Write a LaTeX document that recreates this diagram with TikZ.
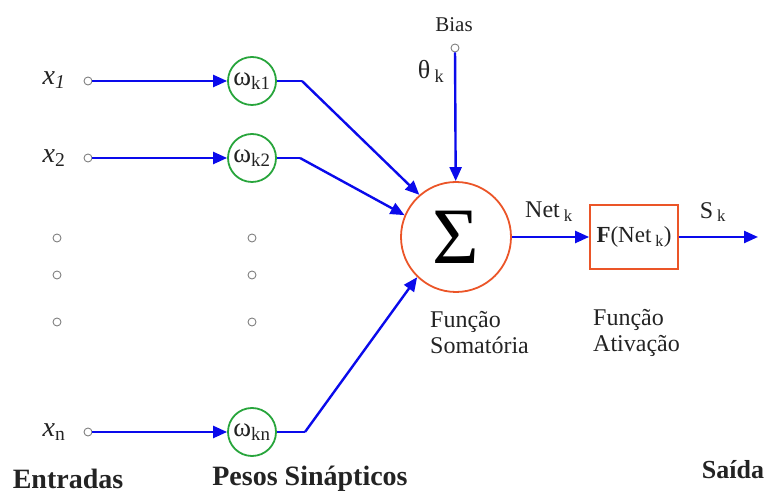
\documentclass[tikz,border=0pt]{standalone}
\usepackage{fontspec}
\setmainfont{Liberation Serif}
\usetikzlibrary{arrows.meta}

\definecolor{linkblue}{RGB}{10,10,235}
\definecolor{wgreen}{RGB}{40,165,60}
\definecolor{sumred}{RGB}{235,85,40}
\definecolor{txt}{RGB}{35,35,35}

\tikzset{
  link/.style={linkblue, line width=2.4pt},
  tip/.style={link, -{Triangle[length=14pt,width=12pt]}},
  port/.style={circle, draw=gray, line width=0.9pt, inner sep=0pt, minimum size=8pt},
  weight/.style={circle, draw=wgreen, line width=1.8pt, minimum size=48pt, inner sep=0pt,
    font=\fontsize{27}{27}\selectfont, text=txt},
  lbl/.style={font=\fontsize{24}{26}\selectfont, text=txt, inner sep=0pt},
  var/.style={font=\fontsize{28}{28}\selectfont, text=txt, inner sep=0pt},
  head/.style={font=\fontsize{28}{30}\selectfont\bfseries, text=txt, inner sep=0pt}
}

\begin{document}
\begin{tikzpicture}[x=1pt, y=1pt]
\useasboundingbox (0,0) rectangle (773,497);
% inputs
\node[var] (x1) at (54,417) {\textit{x}\textsubscript{\textit{1}}};
\node[var] (x2) at (54,339) {\textit{x}\textsubscript{2}};
\node[var] (xn) at (54,65) {\textit{x}\textsubscript{n}};
\node[port] (in1) at (88,416) {};
\node[port] (in2) at (88,339) {};
\node[port] (inn) at (88,65) {};
% weights
\node[weight] (w1) at (252,416) {ω\textsubscript{k1}};
\node[weight] (w2) at (252,339) {ω\textsubscript{k2}};
\node[weight] (wn) at (252,65) {ω\textsubscript{kn}};
\foreach \y/\n in {259/a, 222/b, 175/c} {
 \node[port] (din\n) at (57,\y) {};
 \node[port] (dw\n) at (252,\y) {};
}
\draw[tip] (in1) -- (w1);
\draw[tip] (in2) -- (w2);
\draw[tip] (inn) -- (wn);
% summing junction
\node[circle, draw=sumred, line width=1.8pt, minimum size=110pt, inner sep=0pt,
  font=\fontsize{80}{80}\selectfont, text=black] (sum) at (456,260) {Σ};
\coordinate (c1) at (302,416);
\coordinate (c2) at (300,339);
\coordinate (cn) at (305,65);
\draw[link] (w1) -- (c1);
\draw[tip] (c1) -- (sum.131);
\draw[link] (w2) -- (c2);
\draw[tip] (c2) -- (sum.157);
\draw[link] (wn) -- (cn);
\draw[tip] (cn) -- (sum.226);
% bias
\node[lbl, font=\fontsize{21}{22}\selectfont] (bias) at (454,472) {Bias};
\node[port] (bin) at (455,449) {};
\node[lbl, font=\fontsize{26}{26}\selectfont] (theta) at (431,426) {θ\,\textsubscript{k}};
\draw[tip] (bin) -- (sum);
% activation
\node[draw=sumred, line width=1.8pt, minimum width=88pt, minimum height=64pt,
  inner sep=0pt, font=\fontsize{23}{23}\selectfont, text=txt] (act) at (634,260)
  {\textbf{F}(Net\,\textsubscript{k})};
\coordinate (out) at (758,260);
\draw[tip] (sum) -- (act);
\draw[tip] (act) -- (out);
\node[lbl] (net) at (549,285) {Net\,\textsubscript{k}};
\node[lbl] (sk) at (713,285) {S\,\textsubscript{k}};
\node[lbl, anchor=west, align=left] (fsum) at (430,164) {Função\\Somatória};
\node[lbl, anchor=west, align=left] (fact) at (593,164) {Função\\Ativação};
% headings
\node[head] (ent) at (68,18) {Entradas};
\node[head] (pesos) at (310,18) {Pesos Sinápticos};
\node[head, font=\fontsize{26}{26}\selectfont\bfseries] (said) at (733,27) {Saída};
\end{tikzpicture}
\end{document}
